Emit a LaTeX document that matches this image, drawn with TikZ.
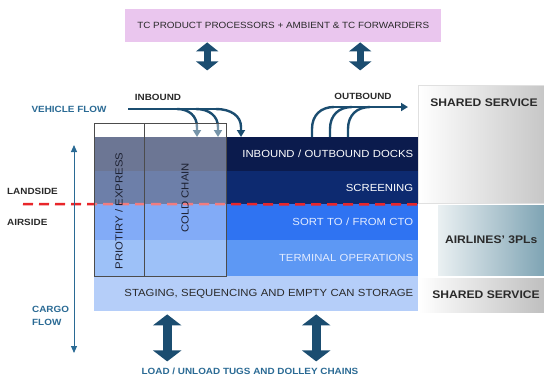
\documentclass[tikz,border=0pt]{standalone}
\usepackage{fontspec}
\setmainfont{Liberation Sans}[FakeStretch=1.1]
\usetikzlibrary{arrows.meta}
\definecolor{cdock}{HTML}{0B1B4D}
\definecolor{cscreen}{HTML}{0D2A70}
\definecolor{csort}{HTML}{2F73F2}
\definecolor{cterm}{HTML}{5D98F4}
\definecolor{cstage}{HTML}{B5CEF9}
\definecolor{cpink}{HTML}{EAC6EE}
\definecolor{carrow}{HTML}{1B4D70}
\definecolor{cflow}{HTML}{2A6A94}
\definecolor{ctext}{HTML}{2A2A2A}
\definecolor{cred}{HTML}{E8262A}
\definecolor{cair}{HTML}{7FA4B4}
\definecolor{cairl}{HTML}{EAF0F2}
\definecolor{clight}{HTML}{E2EBFF}
\definecolor{ccol}{HTML}{1E2233}
\newcommand\rowfont{\fontsize{10.3}{12}\selectfont}
\newcommand\lblfont{\fontsize{9}{13}\selectfont\bfseries}
\newcommand\ssfont{\fontsize{11}{13}\selectfont\bfseries}
\tikzset{
  rowbox/.style={anchor=north west, text width=314pt, align=right, inner xsep=5pt, inner ysep=0pt, font=\rowfont},
  sidebox/.style={anchor=north west, inner sep=0pt},
  colbox/.style={anchor=north west, inner sep=0pt, fill=white, fill opacity=0.4, draw=black!70, line width=0.8pt},
  coltext/.style={rotate=90, font=\rowfont, text=ccol},
  lbl/.style={font=\lblfont, text=ctext, inner sep=0pt},
  sstext/.style={font=\ssfont, text=ctext, inner sep=0pt},
  dbl/.style={color=carrow, line width=7pt, {Triangle[width=22pt,length=9pt]}-{Triangle[width=22pt,length=9pt]}},
  bigdbl/.style={color=carrow, line width=9pt, {Triangle[width=28pt,length=11pt]}-{Triangle[width=28pt,length=11pt]}},
  flow/.style={color=carrow, line width=2.4pt},
  flowtip/.style={flow, -{Triangle[width=8pt,length=7pt]}},
  redline/.style={color=cred, line width=2.5pt, dash pattern=on 10pt off 6pt},
  cargoline/.style={color=cflow, line width=1pt, {Triangle[width=6pt,length=7pt]}-{Triangle[width=6pt,length=7pt]}}
}
\begin{document}
\begin{tikzpicture}[x=1pt,y=-1pt]
\useasboundingbox (0,0) rectangle (544,376);

% top box
\node[fill=cpink, minimum width=316pt, minimum height=33pt, anchor=north west, inner sep=0pt,
      font=\fontsize{9}{11}\selectfont, text=ctext] (tc) at (125,9) {TC PRODUCT PROCESSORS + AMBIENT \& TC FORWARDERS};

% rows
\node[rowbox, fill=cdock, minimum height=34pt, text=white] (docks) at (94,137) {INBOUND / OUTBOUND DOCKS};
\node[rowbox, fill=cscreen, minimum height=33pt, text=white] (screen) at (94,171) {SCREENING};
\node[rowbox, fill=csort, minimum height=36pt, text=clight] (sort) at (94,204) {SORT TO / FROM CTO};
\node[rowbox, fill=cterm, minimum height=36pt, text=clight] (term) at (94,240) {TERMINAL OPERATIONS};
\node[rowbox, fill=cstage, minimum height=35pt, text=ctext] (stage) at (94,276) {STAGING, SEQUENCING AND EMPTY CAN STORAGE};

% right side boxes
\node[sidebox, minimum width=126pt, minimum height=118pt, left color=white, right color=black!22, draw=black!12] (ss1) at (418,85) {};
\node[sstext] (ss1t) at (484,103) {SHARED SERVICE};
\node[sidebox, minimum width=106pt, minimum height=70pt, left color=cairl, right color=cair] (air3) at (438,205) {};
\node[sstext] (air3t) at (air3.center) {AIRLINES’ 3PLs};
\node[sidebox, minimum width=126pt, minimum height=34pt, left color=white, right color=black!25] (ss2) at (418,278) {};
\node[sstext] (ss2t) at (486,295) {SHARED SERVICE};

% landside / airside divider
\coordinate (rl) at (23,204);
\draw[redline] (rl) -- (screen.south east);

% inbound flows
\coordinate (vin) at (128,109);
\coordinate (vmid) at (216,109);
\draw[flow] (vin) -- (vmid);
\draw[flowtip] (177,109) .. controls (189,109) and (197,116) .. (197,127) -- (197,0 |- docks.north);
\draw[flowtip] (196,109) .. controls (209,109) and (218,116) .. (218,127) -- (218,0 |- docks.north);
\draw[flowtip] (vmid) .. controls (231,109) and (241,116) .. (241,127) -- (241,0 |- docks.north);

% outbound flows
\coordinate (oend) at (408,107);
\draw[flow] (312,0 |- docks.north) -- (312,129) .. controls (312,115) and (321,107) .. (334,107);
\draw[flow] (330,0 |- docks.north) -- (330,129) .. controls (330,115) and (339,107) .. (352,107);
\draw[flow] (348,0 |- docks.north) -- (348,129) .. controls (348,115) and (357,107) .. (370,107);
\draw[flowtip] (334,107) -- (oend);

% columns overlay
\node[colbox, minimum width=50pt, minimum height=153pt] (col1) at (94,123) {};
\node[colbox, minimum width=82pt, minimum height=153pt] (col2) at (144,123) {};
\node[coltext] (prio) at (119,211) {PRIOTIRY / EXPRESS};
\node[coltext] (cold) at (185,198) {COLD CHAIN};

% labels
\node[lbl, text=cflow] (vflow) at (69,109) {VEHICLE FLOW};
\node[lbl] (inb) at (158,97) {INBOUND};
\node[lbl] (outb) at (363,96) {OUTBOUND};
\node[lbl, anchor=west] (land) at (7,191) {LANDSIDE};
\node[lbl, anchor=west] (airs) at (7,222) {AIRSIDE};
\node[lbl, text=cflow, anchor=west, align=left] (cargo) at (32,315.5) {CARGO\\FLOW};
\node[lbl, text=cflow] (load) at (250,371) {LOAD / UNLOAD TUGS AND DOLLEY CHAINS};

% cargo flow axis
\coordinate (cftop) at (74,145);
\coordinate (cfbot) at (74,353);
\draw[cargoline] (cftop) -- (cfbot);

% double arrows
\draw[dbl] ([xshift=-76pt]tc.south) -- ++(0,28);
\draw[dbl] ([xshift=77pt]tc.south) -- ++(0,28);
\draw[bigdbl] ([xshift=-89pt,yshift=-3pt]stage.south) -- ++(0,47);
\draw[bigdbl] ([xshift=60pt,yshift=-3pt]stage.south) -- ++(0,47);
\end{tikzpicture}
\end{document}
